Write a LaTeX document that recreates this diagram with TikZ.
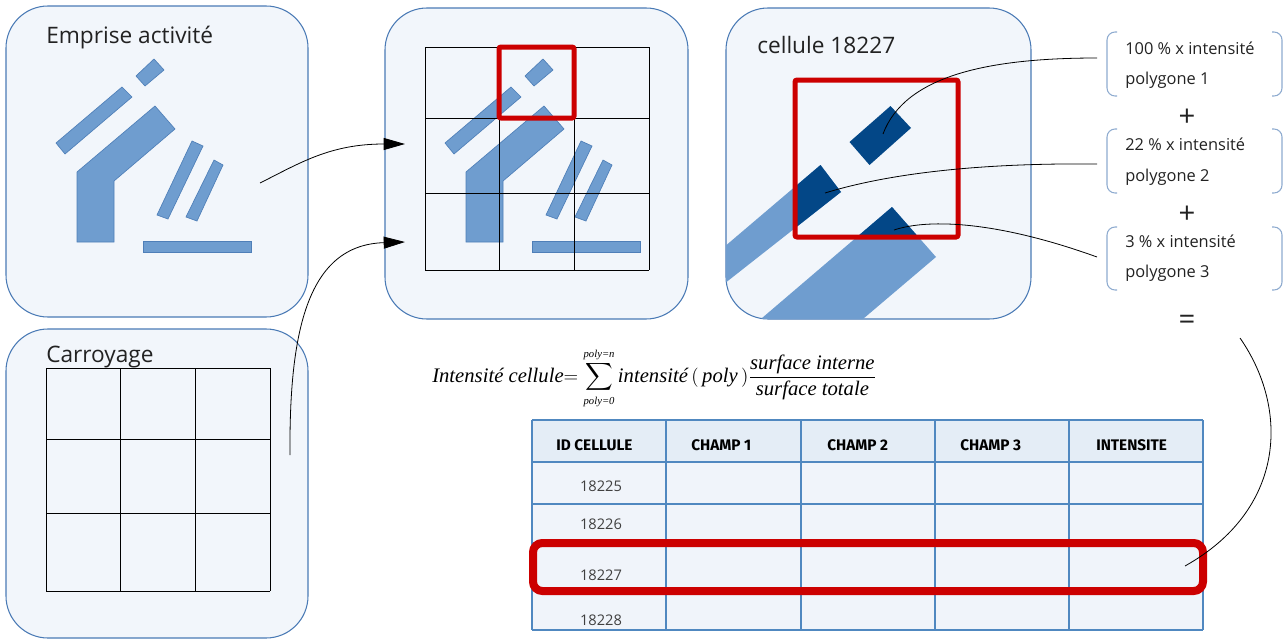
\documentclass[tikz,border=0pt]{standalone}
\usepackage{fontspec}
\usepackage{amsmath}
\setmainfont{Open Sans}
\newfontfamily\hdrfont{Fira Sans}
\newfontfamily\formfont{Liberation Serif}
\usetikzlibrary{arrows.meta}
\definecolor{panelfill}{HTML}{F2F6FB}
\definecolor{panelline}{HTML}{4A7AB5}
\definecolor{shapefill}{HTML}{6F9DCF}
\definecolor{shapeline}{HTML}{4F7FB8}
\definecolor{darkshape}{HTML}{034787}
\definecolor{redbox}{HTML}{CC0000}
\definecolor{bracketcol}{HTML}{8EABCF}
\definecolor{tableline}{HTML}{5088C0}
\definecolor{tablehead}{HTML}{E4EDF6}
\definecolor{tablebody}{HTML}{F0F4FA}
\definecolor{textgray}{HTML}{222222}
\definecolor{numgray}{HTML}{404040}
\tikzset{
  panel/.style={draw=panelline, fill=panelfill, line width=0.8pt, rounded corners=31.5pt},
  bld/.style={fill=shapefill, draw=shapeline, line width=0.5pt},
  gridline/.style={draw=black, line width=0.6pt},
  redsq/.style={draw=redbox, line width=3.75pt, rounded corners=1.5pt},
  redrow/.style={draw=redbox, line width=6pt, rounded corners=7pt},
  title/.style={font=\fontsize{17}{20}\selectfont, text=textgray, inner sep=0pt},
  brtext/.style={font=\fontsize{12.3}{14}\selectfont, text=textgray, inner sep=0pt, anchor=west},
  bracket/.style={draw=bracketcol, line width=0.8pt, rounded corners=6pt},
  opsym/.style={font=\fontsize{22}{24}\selectfont, text=textgray, inner sep=0pt},
  conn/.style={draw=black, line width=0.6pt},
  arrowconn/.style={conn, -{Triangle[length=16pt,width=9pt]}},
  tline/.style={draw=tableline, line width=0.9pt},
  hdr/.style={font=\hdrfont\bfseries\fontsize{11.5}{13}\selectfont, text=black, inner sep=0pt, anchor=west},
  num/.style={font=\fontsize{11}{13}\selectfont, text=numgray, inner sep=0pt},
  site/.pic={
    \draw[bld] (136,76)--(154,59)--(164,70)--(145,86)--cycle;
    \draw[bld] (56,143)--(122,87)--(132,97)--(65,154)--cycle;
    \draw[bld] (77,172)--(155,106)--(175,129)--(114,181)--(114,242)--(77,242)--cycle;
    \draw[bld] (157,215)--(192,141)--(203,146)--(168,219)--cycle;
    \draw[bld] (186,217)--(214,160)--(223,165)--(197,221)--cycle;
    \draw[bld] (143,241) rectangle (251,252);
  }
}
\newcommand\brkbox[4]{%
  \draw[bracket] (#1+10,#2) -- (#1,#2) -- (#1,#4) -- (#1+10,#4);
  \draw[bracket] (#3-10,#2) -- (#3,#2) -- (#3,#4) -- (#3-10,#4);
}
\newcommand\smallit[1]{\mbox{\formfont\itshape\fontsize{8}{9}\selectfont #1}}
\begin{document}
\begin{tikzpicture}[x=0.75pt,y=-0.75pt]
\useasboundingbox (0,0) rectangle (1286,639);

% ---------- panels ----------
\draw[panel] (6,6) rectangle (308,317);
\draw[panel] (385,8) rectangle (688,319);
\draw[panel] (726,8) rectangle (1031,319);
\draw[panel] (6,329) rectangle (308,638);

% ---------- panel 1 : emprise ----------
\node[title, anchor=base west] (t1) at (46,43) {Emprise activité};
\pic at (0,0) {site};

% ---------- panel 2 : emprise + grid ----------
\pic at (389,0) {site};
\foreach \x in {425,499,574,649} \draw[gridline] (\x,47)--(\x,270);
\foreach \y in {47,118,193,270} \draw[gridline] (425,\y)--(649,\y);
\draw[redsq] (499,47) rectangle (574,118);

% ---------- panel 3 : cell zoom ----------
\node[title, anchor=base west] (t3) at (757,53) {cellule 18227};
\begin{scope}
  \clip[rounded corners=31.5pt] (726,8) rectangle (1031,319);
  \fill[shapefill] (700,267.5)--(820.5,165)--(841,192)--(700,302.8)--cycle;
  \fill[shapefill] (748,330)--(892,207)--(936,257)--(850,330)--cycle;
  \begin{scope}
    \clip (795,80) rectangle (958,237);
    \fill[darkshape] (700,267.5)--(820.5,165)--(841,192)--(700,302.8)--cycle;
    \fill[darkshape] (748,330)--(892,207)--(936,257)--(850,330)--cycle;
  \end{scope}
  \fill[darkshape] (849.5,142)--(890.5,106)--(911,128)--(869.5,165)--cycle;
\end{scope}
\draw[redsq] (795,80) rectangle (958,237);

% ---------- panel 4 : carroyage ----------
\node[title, anchor=base west] (t4) at (46,362) {Carroyage};
\foreach \x in {46,120,195,270} \draw[gridline] (\x,368)--(\x,591);
\foreach \y in {368,439,513,591} \draw[gridline] (46,\y)--(270,\y);

% ---------- bracket boxes ----------
\brkbox{1107}{32}{1282}{96}
\brkbox{1107}{129}{1282}{193}
\brkbox{1107}{227}{1282}{290}
\node[brtext] (b1a) at (1125,48) {100 \% x intensité};
\node[brtext] (b1b) at (1125,80) {polygone 1};
\node[brtext] (b2a) at (1125,144) {22 \% x intensité};
\node[brtext] (b2b) at (1125,177) {polygone 2};
\node[brtext] (b3a) at (1125,241) {3 \% x intensité};
\node[brtext] (b3b) at (1125,273) {polygone 3};
\node[opsym] (plus1) at (1187,118) {+};
\node[opsym] (plus2) at (1187,215) {+};
\node[opsym] (eq) at (1187,322) {=};

% ---------- formula ----------
\node[anchor=base west, inner sep=0pt] (formula) at (432,382) {\formfont\itshape\fontsize{15.5}{18}\selectfont
  Intensité cellule$=\displaystyle\sum_{\smallit{poly=0}}^{\smallit{poly=n}}$\,intensité\,$($\,poly\,$)\dfrac{\mbox{\formfont\itshape surface interne}}{\mbox{\formfont\itshape surface totale}}$};

% ---------- table ----------
\fill[tablehead] (532,420) rectangle (1203,462);
\fill[tablebody] (532,462) rectangle (1203,630);
\foreach \x in {532,666,801,935,1069,1203} \draw[tline] (\x,420)--(\x,630);
\foreach \y in {420,462,504,543,588,630} \draw[tline] (532,\y)--(1203,\y);
\node[hdr] (h1) at (556,445) {ID CELLULE};
\node[hdr] (h2) at (691,445) {CHAMP 1};
\node[hdr] (h3) at (827,445) {CHAMP 2};
\node[hdr] (h4) at (960,445) {CHAMP 3};
\node[hdr] (h5) at (1096,445) {INTENSITE};
\node[num] (r1) at (601,486) {18225};
\node[num] (r2) at (601,524) {18226};
\node[num] (r3) at (601,575) {18227};
\node[num] (r4) at (601,620) {18228};
\draw[redrow] (533,543) rectangle (1203,591);

% ---------- connectors ----------
\coordinate (a1s) at (260,183);
\coordinate (a1e) at (405,144);
\coordinate (a2s) at (290,455);
\coordinate (a2e) at (405,242);
\draw[arrowconn] (a1s) .. controls (300,163) and (330,144) .. (a1e);
\draw[arrowconn] (a2s) .. controls (289,330) and (308,245) .. (a2e);

\coordinate (p1) at (883,134);
\coordinate (p2) at (825,193);
\coordinate (p3) at (894,230);
\coordinate (q1) at (1097,58);
\coordinate (q2) at (1097,164);
\coordinate (q3) at (1097,257);
\draw[conn] (p1) .. controls (905,75) and (990,58) .. (q1);
\draw[conn] (p2) .. controls (900,170) and (1000,163) .. (q2);
\draw[conn] (p3) .. controls (930,218) and (1000,222) .. (q3);

\coordinate (eqs) at (1240,338);
\coordinate (rowe) at (1185,566);
\draw[conn] (eqs) .. controls (1290,410) and (1285,510) .. (rowe);
\end{tikzpicture}
\end{document}
